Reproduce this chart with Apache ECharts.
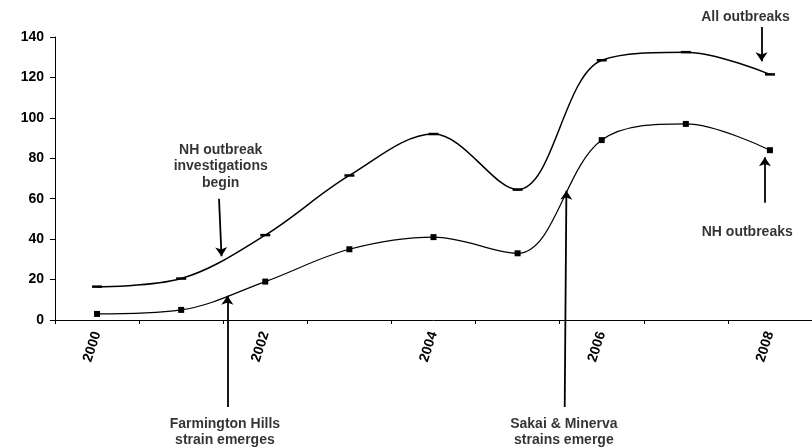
<!DOCTYPE html>
<html>
<head>
<meta charset="utf-8">
<script src="https://cdn.jsdelivr.net/npm/echarts@6/dist/echarts.min.js"></script>
<style>
  html, body { margin: 0; padding: 0; background: #fff; }
  #chart { width: 812px; height: 448px; }
</style>
</head>
<body>
<div id="chart"></div>
<script>
// 年份
var years = ['2000', '2001', '2002', '2003', '2004', '2005', '2006', '2007', '2008']
// All outbreaks
var allOutbreaks = [16.5, 20.5, 42, 71.5, 92, 64.5, 128.5, 132.5, 121.5]
// NH outbreaks
var nhOutbreaks = [3, 5, 19, 35, 41, 33, 89, 97, 84]
// y 轴刻度
var yTicks = [0, 20, 40, 60, 80, 100, 120, 140]

// 注释文字（x 为年份序号，y 为数值）
var noteTexts = [
  { name: 'NH outbreak\ninvestigations\nbegin', value: [1.47, 76] },
  { name: 'Farmington Hills\nstrain emerges', value: [1.52, -55.5] },
  { name: 'Sakai & Minerva\nstrains emerge', value: [5.55, -55.5] },
  { name: 'All outbreaks', value: [7.71, 150] },
  { name: 'NH outbreaks', value: [7.73, 43.5] }
]
// 注释箭头 [起点, 终点]
var noteArrows = [
  [[1.45, 60], [1.48, 31.5]],
  [[1.55, -43], [1.55, 12]],
  [[5.56, -43], [5.58, 64]],
  [[7.9, 145], [7.9, 128]],
  [[7.94, 58], [7.94, 80.5]]
]

var font = 'Liberation Sans, Arial, sans-serif'

var myChart = echarts.init(document.getElementById('chart'))
myChart.setOption({
  animation: false,
  textStyle: { fontFamily: font },
  grid: {
    left: 55,
    top: 37,
    width: 759,
    bottom: 128,
  },
  xAxis: [
    {
      type: 'category',
      data: years,
      boundaryGap: true,
      axisLine: { lineStyle: { color: '#000', width: 1 } },
      axisTick: { show: true, length: 4, interval: 0, lineStyle: { color: '#000' } },
      axisLabel: {
        interval: 1,
        rotate: 72,
        margin: 12,
        color: '#000',
        fontSize: 14,
        fontWeight: 'bold',
        fontFamily: font,
      },
      splitLine: { show: false },
    },
    {
      // 注释用的隐藏数值轴
      type: 'value',
      min: -0.5,
      max: 8.5,
      show: false,
    },
  ],
  yAxis: {
    type: 'value',
    min: yTicks[0],
    max: yTicks[yTicks.length - 1],
    interval: 20,
    axisLine: { show: true, onZero: false, lineStyle: { color: '#000', width: 1 } },
    axisTick: { show: true, length: 5, lineStyle: { color: '#000' } },
    splitLine: { show: false },
    axisLabel: {
      color: '#000',
      fontSize: 14,
      fontWeight: 'bold',
      margin: 11,
      fontFamily: font,
    },
  },
  series: [
    {
      name: 'All outbreaks',
      type: 'line',
      data: allOutbreaks,
      smooth: 0.35,
      symbol: 'rect',
      symbolSize: [10, 2.5],
      itemStyle: { color: '#000' },
      lineStyle: { color: '#000', width: 1.5 },
    },
    {
      name: 'NH outbreaks',
      type: 'line',
      data: nhOutbreaks,
      smooth: 0.35,
      symbol: 'rect',
      symbolSize: 6,
      itemStyle: { color: '#000' },
      lineStyle: { color: '#000', width: 1.2 },
    },
    {
      type: 'lines',
      coordinateSystem: 'cartesian2d',
      xAxisIndex: 1,
      clip: false,
      silent: true,
      symbol: ['none', 'arrow'],
      symbolSize: [6, 9],
      lineStyle: { color: '#000', width: 1.8, opacity: 1 },
      data: noteArrows.map(function (a) { return { coords: a } }),
    },
    {
      type: 'scatter',
      xAxisIndex: 1,
      clip: false,
      silent: true,
      symbolSize: 0,
      data: noteTexts,
      label: {
        show: true,
        position: 'inside',
        formatter: function (p) { return p.name },
        color: '#000',
        fontSize: 14,
        fontWeight: 'bold',
        lineHeight: 16.5,
        align: 'center',
        fontFamily: font,
      },
    },
  ],
})
</script>
</body>
</html>
